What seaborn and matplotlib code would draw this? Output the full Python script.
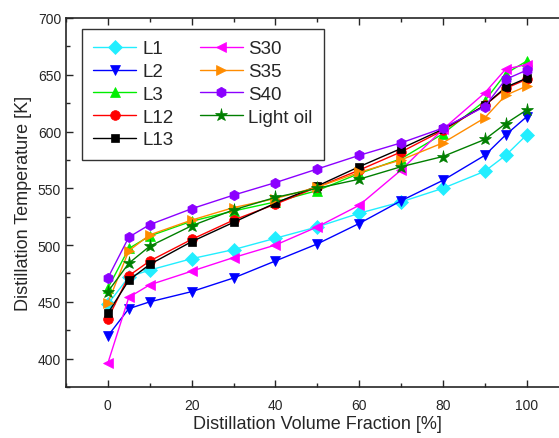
import numpy as np
import pandas as pd
import seaborn as sns
import matplotlib
matplotlib.use("Agg")
import matplotlib.pyplot as plt
from matplotlib.ticker import MultipleLocator

fractions = [0, 5, 10, 20, 30, 40, 50, 60, 70, 80, 90, 95, 100]

L1 = [448, 472, 478, 488, 496, 506, 516, 528, 538, 550, 565, 579, 597]
L2 = [420, 444, 450, 459, 471, 486, 501, 519, 539, 557, 579, 597, 613]
L3 = [462, 497, 508, 521, 530, 538, 548, 563, 576, 598, 627, 651, 662]
L12 = [435, 473, 486, 505, 522, 536, 551, 566, 582, 601, 623, 638, 646]
L13 = [440, 469, 483, 503, 520, 537, 552, 569, 585, 602, 623, 639, 647]
S30 = [396, 454, 465, 477, 489, 500, 516, 535, 566, 602, 634, 655, 659]
S35 = [449, 495, 509, 522, 533, 541, 551, 564, 575, 590, 612, 632, 640]
S40 = [471, 507, 518, 532, 544, 555, 567, 579, 590, 603, 622, 646, 654]
LightOil = [459, 484, 499, 517, 531, 542, 550, 558, 569, 578, 593, 607, 619]

names = ["L1", "L2", "L3", "L12", "L13", "S30", "S35", "S40", "Light oil"]
series = [L1, L2, L3, L12, L13, S30, S35, S40, LightOil]
colors = ["#22EEFF", "#0000FF", "#00EE00", "#FF0000", "#000000",
          "#FF00FF", "#FF8C00", "#8B00FF", "#007F00"]
markers = ["D", "v", "^", "o", "s", "<", ">", "h", "*"]
msizes = [7, 7.5, 7.5, 7, 5.5, 7.5, 7.5, 7.5, 9.5]

sns.set_style("ticks")
plt.rcParams['font.family'] = ['Liberation Sans', 'DejaVu Sans']

fig = plt.figure(figsize=(5.59, 4.39), dpi=100)
ax = fig.add_axes([66/559, 51/439, (568.5-66)/559, (388-19)/439])

for n, s, c, m, ms in zip(names, series, colors, markers, msizes):
    d = pd.DataFrame({"Fraction": fractions, "Temp": s})
    sns.lineplot(data=d, x="Fraction", y="Temp", color=c, marker=m,
                 markersize=ms, markeredgecolor=c, markeredgewidth=0.5,
                 linewidth=1.0, label=n, ax=ax)

ax.set_xlim(-10, 110)
ax.set_ylim(375, 700)
ax.xaxis.set_major_locator(MultipleLocator(20))
ax.xaxis.set_minor_locator(MultipleLocator(10))
ax.yaxis.set_major_locator(MultipleLocator(50))
ax.yaxis.set_minor_locator(MultipleLocator(25))
ax.tick_params(which='both', direction='in', top=True, right=False,
               labelsize=10, width=1)
ax.tick_params(which='major', length=5)
ax.tick_params(which='minor', length=3)
ax.tick_params(axis='x', pad=8)
ax.spines['right'].set_visible(False)
for sp in ['left', 'top', 'bottom']:
    ax.spines[sp].set_linewidth(1.2)

ax.set_xlabel("Distillation Volume Fraction [%]", fontsize=13, labelpad=2)
ax.set_ylabel("Distillation Temperature [K]", fontsize=13)

handles, labels = ax.get_legend_handles_labels()
leg = ax.legend(handles, labels, ncol=2, loc='upper left',
                bbox_to_anchor=(0.032, 0.970), borderaxespad=0, fontsize=13.5,
                frameon=True, fancybox=False, edgecolor='black',
                handlelength=2.3, handletextpad=0.3, columnspacing=1.4,
                labelspacing=0.3, borderpad=0.6)
leg.get_frame().set_linewidth(1.0)

fig.savefig("out.png", dpi=100)
